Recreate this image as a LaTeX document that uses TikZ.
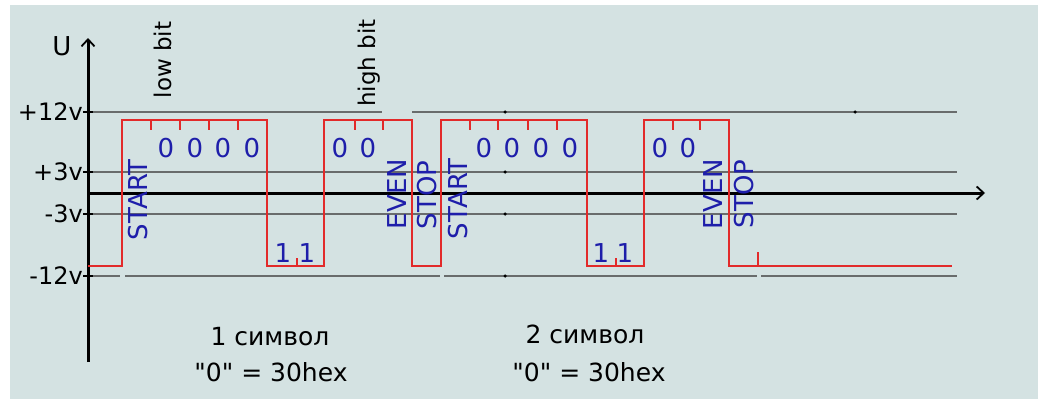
\documentclass[tikz,border=0pt]{standalone}
\usepackage{fontspec}
\setmainfont{DejaVu Sans}[Ligatures=TeXOff]
\usetikzlibrary{arrows.meta}
\definecolor{bgc}{RGB}{212,226,226}
\definecolor{gridc}{RGB}{105,108,108}
\definecolor{sigc}{RGB}{226,42,42}
\definecolor{bluec}{RGB}{30,30,170}
\tikzset{
  gridline/.style={draw=gridc,line width=1.8pt},
  axisline/.style={draw=black,line width=3pt,-{Straight Barb[length=7pt,width=13pt,line width=1.8pt]}},
  sigline/.style={draw=sigc,line width=2.6pt,line join=miter},
  sigtick/.style={draw=sigc,line width=2pt},
  lvl/.style={anchor=east,inner sep=0pt,font=\fontsize{24}{26}\selectfont},
  bitlbl/.style={inner sep=0pt,text=bluec,font=\fontsize{26}{28}\selectfont},
  vlbl/.style={inner sep=0pt,rotate=90,text=bluec,font=\fontsize{26}{28}\selectfont},
  toplbl/.style={inner sep=0pt,rotate=90,font=\fontsize{23}{25}\selectfont},
  caption/.style={inner sep=0pt,font=\fontsize{25}{27}\selectfont},
  dotmark/.style={fill=black,circle,inner sep=0pt,minimum size=3.5pt}
}
\begin{document}
\begin{tikzpicture}[x=1pt,y=-1pt]
\useasboundingbox (0,0) rectangle (1038,399);
\fill[bgc] (10,5) rectangle (1038,399);

% grid lines
\coordinate (a1) at (88,112); \coordinate (a2) at (382,112);
\coordinate (a3) at (412,112); \coordinate (a4) at (957,112);
\draw[gridline] (a1) -- (a2); \draw[gridline] (a3) -- (a4);
\coordinate (b1) at (88,172); \coordinate (b2) at (957,172);
\draw[gridline] (b1) -- (b2);
\coordinate (c1) at (88,214); \coordinate (c2) at (957,214);
\draw[gridline] (c1) -- (c2);
\coordinate (d1) at (88,276); \coordinate (d2) at (120,276);
\coordinate (d3) at (125,276); \coordinate (d4) at (440,276);
\coordinate (d5) at (444,276); \coordinate (d6) at (757,276);
\coordinate (d7) at (761,276); \coordinate (d8) at (957,276);
\draw[gridline] (d1) -- (d2); \draw[gridline] (d3) -- (d4);
\draw[gridline] (d5) -- (d6); \draw[gridline] (d7) -- (d8);

% grid dots
\node[dotmark] (g1) at (505,112) {};
\node[dotmark] (g2) at (505,172) {};
\node[dotmark] (g3) at (505,214) {};
\node[dotmark] (g4) at (505,276) {};
\node[dotmark] (g5) at (855,112) {};

% axes
\coordinate (x0) at (88,193); \coordinate (x1) at (985,193);
\draw[axisline] (x0) -- (x1);
\coordinate (y0) at (88,362); \coordinate (y1) at (88,38);
\draw[axisline] (y0) -- (y1);
\node[inner sep=0pt,font=\fontsize{26}{28}\selectfont] (U) at (62,46) {U};

% level ticks and labels
\foreach \yy/\nm in {112/t12,172/t3,214/tm3,276/tm12}{
  \coordinate (\nm a) at (83,\yy); \coordinate (\nm b) at (93,\yy);
  \draw[black,line width=1.8pt] (\nm a) -- (\nm b);
}
\node[lvl] (l12) at (83,112) {+12v};
\node[lvl] (l3) at (83,172) {+3v};
\node[lvl] (lm3) at (83,214) {-3v};
\node[lvl] (lm12) at (83,276) {-12v};

% signal
\coordinate (s0) at (88,266);
\draw[sigline] (s0) -- (122,266) -- (122,120) -- (267,120) -- (267,266)
  -- (324,266) -- (324,120) -- (412,120) -- (412,266) -- (441,266)
  -- (441,120) -- (587,120) -- (587,266) -- (644,266) -- (644,120)
  -- (729,120) -- (729,266) -- (952,266);

% bit ticks
\foreach \xx in {151,180,209,238,355,383,470,498,528,557,673,700}{
  \draw[sigtick] (\xx,120) -- (\xx,130);
}
\foreach \xx in {297,616}{
  \draw[sigtick] (\xx,266) -- (\xx,258);
}
\draw[sigtick] (758,266) -- (758,252);

% bit labels
\foreach \xx/\nm in {166/z1,195/z2,223/z3,252/z4,340/z5,368/z6,484/z7,512/z8,541/z9,570/z10,660/z11,688/z12}{
  \node[bitlbl] (\nm) at (\xx,148) {0};
}
\node[bitlbl] (o1) at (283,253) {1};
\node[bitlbl] (o2) at (307,253) {1};
\node[bitlbl] (o3) at (601,253) {1};
\node[bitlbl] (o4) at (625,253) {1};

\node[vlbl] (st1) at (138,200) {START};
\node[vlbl] (ev1) at (397,194) {EVEN};
\node[vlbl] (sp1) at (427,195) {STOP};
\node[vlbl] (st2) at (458,199) {START};
\node[vlbl] (ev2) at (713,194) {EVEN};
\node[vlbl] (sp2) at (744,194) {STOP};

\node[toplbl] (lowb) at (163,60) {low bit};
\node[toplbl] (highb) at (369,63) {high bit};

\node[caption] (c1) at (270,337) {1 символ};
\node[caption] (h1) at (271,372) {"0" = 30hex};
\node[caption] (c2) at (585,334) {2 символ};
\node[caption] (h2) at (589,372) {"0" = 30hex};
\end{tikzpicture}
\end{document}
